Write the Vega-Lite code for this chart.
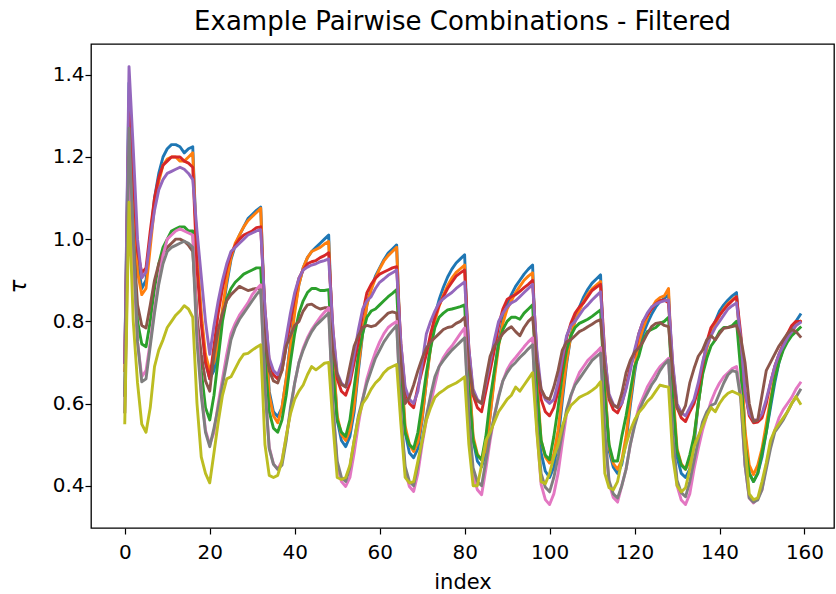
{
"$schema": "https://vega.github.io/schema/vega-lite/v6.json",
"width": 743, "height": 484,
"autosize": {"type": "none"},
"padding": {"left": 91, "top": 44, "right": 2, "bottom": 66},
"background": "white",
"title": {"text": "Example Pairwise Combinations - Filtered", "font": "DejaVu Sans", "fontSize": 26, "fontWeight": "normal", "color": "black", "offset": 9, "anchor": "middle"},
"config": {"view": {"stroke": "black", "strokeWidth": 1.3}, "font": "DejaVu Sans"},
"data": {"values": [
{"x":0,"s1":0.70,"s2":0.68,"s3":0.62,"s4":0.70,"s5":0.70,"s6":0.62,"s7":0.58,"s8":0.58,"s9":0.553},
{"x":1,"s1":1.38,"s2":1.30,"s3":1.22,"s4":1.33,"s5":1.42,"s6":1.20,"s7":1.15,"s8":1.27,"s9":1.09},
{"x":2,"s1":1.15,"s2":1.10,"s3":1.00,"s4":1.15,"s5":1.22,"s6":1.00,"s7":0.95,"s8":1.0,"s9":0.80},
{"x":3,"s1":0.95,"s2":0.92,"s3":0.80,"s4":0.97,"s5":1.0,"s6":0.84,"s7":0.75,"s8":0.75,"s9":0.65},
{"x":4,"s1":0.88,"s2":0.865,"s3":0.745,"s4":0.918,"s5":0.906,"s6":0.79,"s7":0.665,"s8":0.653,"s9":0.55},
{"x":5,"s1":0.90,"s2":0.88,"s3":0.738,"s4":0.93,"s5":0.92,"s6":0.784,"s7":0.68,"s8":0.66,"s9":0.53},
{"x":6,"s1":1.00,"s2":0.98,"s3":0.80,"s4":1.02,"s5":1.0,"s6":0.84,"s7":0.75,"s8":0.74,"s9":0.59},
{"x":7,"s1":1.10,"s2":1.08,"s3":0.88,"s4":1.10,"s5":1.07,"s6":0.90,"s7":0.83,"s8":0.82,"s9":0.69},
{"x":8,"s1":1.16,"s2":1.14,"s3":0.94,"s4":1.15,"s5":1.12,"s6":0.94,"s7":0.90,"s8":0.89,"s9":0.73},
{"x":9,"s1":1.20,"s2":1.18,"s3":0.98,"s4":1.18,"s5":1.145,"s6":0.965,"s7":0.96,"s8":0.94,"s9":0.755},
{"x":10,"s1":1.22,"s2":1.195,"s3":1.00,"s4":1.19,"s5":1.16,"s6":0.98,"s7":1.0,"s8":0.97,"s9":0.785},
{"x":11,"s1":1.23,"s2":1.20,"s3":1.02,"s4":1.20,"s5":1.165,"s6":0.99,"s7":1.01,"s8":0.98,"s9":0.80},
{"x":12,"s1":1.23,"s2":1.20,"s3":1.025,"s4":1.20,"s5":1.17,"s6":1.0,"s7":1.02,"s8":0.985,"s9":0.815},
{"x":13,"s1":1.225,"s2":1.19,"s3":1.03,"s4":1.20,"s5":1.175,"s6":1.0,"s7":1.025,"s8":0.99,"s9":0.825},
{"x":14,"s1":1.21,"s2":1.19,"s3":1.03,"s4":1.19,"s5":1.17,"s6":0.995,"s7":1.02,"s8":0.995,"s9":0.838},
{"x":15,"s1":1.22,"s2":1.20,"s3":1.02,"s4":1.185,"s5":1.16,"s6":0.985,"s7":1.015,"s8":0.99,"s9":0.83},
{"x":16,"s1":1.225,"s2":1.21,"s3":1.02,"s4":1.175,"s5":1.145,"s6":0.97,"s7":1.01,"s8":0.98,"s9":0.81},
{"x":17,"s1":0.96,"s2":0.96,"s3":0.80,"s4":0.93,"s5":1.02,"s6":0.81,"s7":0.78,"s8":0.75,"s9":0.60},
{"x":18,"s1":0.81,"s2":0.82,"s3":0.68,"s4":0.795,"s5":0.91,"s6":0.72,"s7":0.63,"s8":0.62,"s9":0.47},
{"x":19,"s1":0.70,"s2":0.72,"s3":0.59,"s4":0.70,"s5":0.80,"s6":0.655,"s7":0.535,"s8":0.53,"s9":0.43},
{"x":20,"s1":0.66,"s2":0.68,"s3":0.56,"s4":0.66,"s5":0.72,"s6":0.63,"s7":0.50,"s8":0.495,"s9":0.407},
{"x":21,"s1":0.68,"s2":0.70,"s3":0.62,"s4":0.74,"s5":0.79,"s6":0.72,"s7":0.53,"s8":0.54,"s9":0.48},
{"x":22,"s1":0.735,"s2":0.75,"s3":0.71,"s4":0.82,"s5":0.85,"s6":0.78,"s7":0.60,"s8":0.59,"s9":0.555},
{"x":23,"s1":0.82,"s2":0.83,"s3":0.80,"s4":0.88,"s5":0.90,"s6":0.82,"s7":0.66,"s8":0.645,"s9":0.62},
{"x":24,"s1":0.89,"s2":0.90,"s3":0.855,"s4":0.93,"s5":0.94,"s6":0.85,"s7":0.72,"s8":0.70,"s9":0.66},
{"x":25,"s1":0.95,"s2":0.955,"s3":0.88,"s4":0.965,"s5":0.97,"s6":0.865,"s7":0.77,"s8":0.755,"s9":0.665},
{"x":26,"s1":0.985,"s2":0.99,"s3":0.895,"s4":0.985,"s5":0.98,"s6":0.875,"s7":0.795,"s8":0.785,"s9":0.685},
{"x":27,"s1":1.01,"s2":1.01,"s3":0.905,"s4":1.0,"s5":0.99,"s6":0.885,"s7":0.815,"s8":0.805,"s9":0.705},
{"x":28,"s1":1.03,"s2":1.03,"s3":0.915,"s4":1.01,"s5":1.0,"s6":0.88,"s7":0.83,"s8":0.82,"s9":0.72},
{"x":29,"s1":1.05,"s2":1.045,"s3":0.92,"s4":1.015,"s5":1.01,"s6":0.875,"s7":0.845,"s8":0.835,"s9":0.722},
{"x":30,"s1":1.06,"s2":1.055,"s3":0.925,"s4":1.02,"s5":1.015,"s6":0.878,"s7":0.865,"s8":0.85,"s9":0.73},
{"x":31,"s1":1.07,"s2":1.065,"s3":0.93,"s4":1.028,"s5":1.02,"s6":0.88,"s7":0.878,"s8":0.865,"s9":0.737},
{"x":32,"s1":1.078,"s2":1.075,"s3":0.93,"s4":1.03,"s5":1.023,"s6":0.88,"s7":0.889,"s8":0.877,"s9":0.743},
{"x":33,"s1":0.80,"s2":0.79,"s3":0.71,"s4":0.83,"s5":0.83,"s6":0.755,"s7":0.64,"s8":0.64,"s9":0.50},
{"x":34,"s1":0.63,"s2":0.62,"s3":0.58,"s4":0.70,"s5":0.71,"s6":0.68,"s7":0.494,"s8":0.49,"s9":0.425},
{"x":35,"s1":0.58,"s2":0.57,"s3":0.54,"s4":0.67,"s5":0.68,"s6":0.655,"s7":0.453,"s8":0.452,"s9":0.42},
{"x":36,"s1":0.568,"s2":0.553,"s3":0.53,"s4":0.66,"s5":0.67,"s6":0.65,"s7":0.44,"s8":0.44,"s9":0.425},
{"x":37,"s1":0.59,"s2":0.59,"s3":0.56,"s4":0.68,"s5":0.70,"s6":0.68,"s7":0.46,"s8":0.45,"s9":0.46},
{"x":38,"s1":0.66,"s2":0.66,"s3":0.62,"s4":0.74,"s5":0.76,"s6":0.74,"s7":0.52,"s8":0.51,"s9":0.52},
{"x":39,"s1":0.75,"s2":0.74,"s3":0.70,"s4":0.80,"s5":0.82,"s6":0.765,"s7":0.58,"s8":0.59,"s9":0.575},
{"x":40,"s1":0.83,"s2":0.82,"s3":0.77,"s4":0.86,"s5":0.87,"s6":0.79,"s7":0.65,"s8":0.65,"s9":0.61},
{"x":41,"s1":0.89,"s2":0.89,"s3":0.82,"s4":0.905,"s5":0.905,"s6":0.80,"s7":0.70,"s8":0.70,"s9":0.63},
{"x":42,"s1":0.93,"s2":0.93,"s3":0.85,"s4":0.925,"s5":0.925,"s6":0.825,"s7":0.735,"s8":0.73,"s9":0.645},
{"x":43,"s1":0.955,"s2":0.955,"s3":0.87,"s4":0.94,"s5":0.932,"s6":0.84,"s7":0.76,"s8":0.755,"s9":0.67},
{"x":44,"s1":0.97,"s2":0.97,"s3":0.88,"s4":0.945,"s5":0.937,"s6":0.842,"s7":0.78,"s8":0.775,"s9":0.69},
{"x":45,"s1":0.98,"s2":0.975,"s3":0.88,"s4":0.948,"s5":0.94,"s6":0.835,"s7":0.795,"s8":0.79,"s9":0.682},
{"x":46,"s1":0.99,"s2":0.98,"s3":0.875,"s4":0.955,"s5":0.945,"s6":0.83,"s7":0.81,"s8":0.80,"s9":0.69},
{"x":47,"s1":1.0,"s2":0.988,"s3":0.875,"s4":0.96,"s5":0.948,"s6":0.833,"s7":0.822,"s8":0.81,"s9":0.698},
{"x":48,"s1":1.01,"s2":0.994,"s3":0.877,"s4":0.967,"s5":0.952,"s6":0.833,"s7":0.833,"s8":0.82,"s9":0.70},
{"x":49,"s1":0.73,"s2":0.73,"s3":0.68,"s4":0.78,"s5":0.78,"s6":0.727,"s7":0.594,"s8":0.595,"s9":0.55},
{"x":50,"s1":0.56,"s2":0.57,"s3":0.56,"s4":0.66,"s5":0.675,"s6":0.67,"s7":0.45,"s8":0.46,"s9":0.42},
{"x":51,"s1":0.51,"s2":0.525,"s3":0.53,"s4":0.63,"s5":0.65,"s6":0.646,"s7":0.41,"s8":0.42,"s9":0.415},
{"x":52,"s1":0.495,"s2":0.51,"s3":0.52,"s4":0.62,"s5":0.64,"s6":0.64,"s7":0.398,"s8":0.41,"s9":0.42},
{"x":53,"s1":0.52,"s2":0.535,"s3":0.56,"s4":0.65,"s5":0.66,"s6":0.69,"s7":0.42,"s8":0.445,"s9":0.45},
{"x":54,"s1":0.58,"s2":0.595,"s3":0.64,"s4":0.70,"s5":0.72,"s6":0.74,"s7":0.48,"s8":0.51,"s9":0.51},
{"x":55,"s1":0.68,"s2":0.69,"s3":0.72,"s4":0.75,"s5":0.78,"s6":0.765,"s7":0.55,"s8":0.57,"s9":0.565},
{"x":56,"s1":0.77,"s2":0.775,"s3":0.77,"s4":0.82,"s5":0.83,"s6":0.785,"s7":0.61,"s8":0.61,"s9":0.60},
{"x":57,"s1":0.84,"s2":0.84,"s3":0.81,"s4":0.87,"s5":0.85,"s6":0.79,"s7":0.66,"s8":0.65,"s9":0.615},
{"x":58,"s1":0.88,"s2":0.877,"s3":0.825,"s4":0.89,"s5":0.86,"s6":0.787,"s7":0.695,"s8":0.68,"s9":0.635},
{"x":59,"s1":0.91,"s2":0.905,"s3":0.83,"s4":0.905,"s5":0.88,"s6":0.79,"s7":0.725,"s8":0.71,"s9":0.65},
{"x":60,"s1":0.93,"s2":0.928,"s3":0.84,"s4":0.915,"s5":0.895,"s6":0.80,"s7":0.75,"s8":0.73,"s9":0.66},
{"x":61,"s1":0.95,"s2":0.947,"s3":0.85,"s4":0.92,"s5":0.903,"s6":0.81,"s7":0.77,"s8":0.75,"s9":0.675},
{"x":62,"s1":0.966,"s2":0.96,"s3":0.86,"s4":0.925,"s5":0.912,"s6":0.82,"s7":0.785,"s8":0.765,"s9":0.685},
{"x":63,"s1":0.976,"s2":0.97,"s3":0.868,"s4":0.93,"s5":0.918,"s6":0.823,"s7":0.793,"s8":0.778,"s9":0.69},
{"x":64,"s1":0.986,"s2":0.98,"s3":0.877,"s4":0.933,"s5":0.925,"s6":0.82,"s7":0.80,"s8":0.79,"s9":0.695},
{"x":65,"s1":0.70,"s2":0.71,"s3":0.664,"s4":0.745,"s5":0.746,"s6":0.70,"s7":0.572,"s8":0.575,"s9":0.55},
{"x":66,"s1":0.53,"s2":0.545,"s3":0.53,"s4":0.63,"s5":0.64,"s6":0.60,"s7":0.436,"s8":0.447,"s9":0.42},
{"x":67,"s1":0.48,"s2":0.50,"s3":0.50,"s4":0.60,"s5":0.61,"s6":0.615,"s7":0.398,"s8":0.41,"s9":0.407},
{"x":68,"s1":0.468,"s2":0.483,"s3":0.49,"s4":0.59,"s5":0.60,"s6":0.645,"s7":0.386,"s8":0.40,"s9":0.41},
{"x":69,"s1":0.49,"s2":0.506,"s3":0.53,"s4":0.64,"s5":0.63,"s6":0.68,"s7":0.43,"s8":0.45,"s9":0.46},
{"x":70,"s1":0.56,"s2":0.565,"s3":0.60,"s4":0.68,"s5":0.70,"s6":0.71,"s7":0.50,"s8":0.51,"s9":0.51},
{"x":71,"s1":0.655,"s2":0.655,"s3":0.675,"s4":0.72,"s5":0.77,"s6":0.735,"s7":0.56,"s8":0.57,"s9":0.56},
{"x":72,"s1":0.745,"s2":0.737,"s3":0.735,"s4":0.77,"s5":0.80,"s6":0.75,"s7":0.60,"s8":0.62,"s9":0.59},
{"x":73,"s1":0.815,"s2":0.801,"s3":0.785,"s4":0.81,"s5":0.825,"s6":0.76,"s7":0.645,"s8":0.665,"s9":0.615},
{"x":74,"s1":0.853,"s2":0.837,"s3":0.81,"s4":0.84,"s5":0.845,"s6":0.77,"s7":0.69,"s8":0.69,"s9":0.625},
{"x":75,"s1":0.883,"s2":0.864,"s3":0.82,"s4":0.86,"s5":0.855,"s6":0.78,"s7":0.712,"s8":0.705,"s9":0.632},
{"x":76,"s1":0.908,"s2":0.887,"s3":0.828,"s4":0.88,"s5":0.863,"s6":0.785,"s7":0.728,"s8":0.718,"s9":0.64},
{"x":77,"s1":0.927,"s2":0.905,"s3":0.83,"s4":0.895,"s5":0.87,"s6":0.787,"s7":0.74,"s8":0.73,"s9":0.645},
{"x":78,"s1":0.942,"s2":0.919,"s3":0.833,"s4":0.91,"s5":0.88,"s6":0.795,"s7":0.755,"s8":0.74,"s9":0.65},
{"x":79,"s1":0.952,"s2":0.928,"s3":0.836,"s4":0.918,"s5":0.888,"s6":0.80,"s7":0.77,"s8":0.75,"s9":0.657},
{"x":80,"s1":0.962,"s2":0.937,"s3":0.84,"s4":0.925,"s5":0.896,"s6":0.81,"s7":0.784,"s8":0.76,"s9":0.665},
{"x":81,"s1":0.68,"s2":0.676,"s3":0.633,"s4":0.735,"s5":0.733,"s6":0.695,"s7":0.561,"s8":0.562,"s9":0.50},
{"x":82,"s1":0.51,"s2":0.52,"s3":0.51,"s4":0.62,"s5":0.635,"s6":0.625,"s7":0.427,"s8":0.443,"s9":0.40},
{"x":83,"s1":0.46,"s2":0.477,"s3":0.474,"s4":0.59,"s5":0.61,"s6":0.606,"s7":0.39,"s8":0.41,"s9":0.40},
{"x":84,"s1":0.446,"s2":0.463,"s3":0.463,"s4":0.58,"s5":0.60,"s6":0.60,"s7":0.378,"s8":0.40,"s9":0.45},
{"x":85,"s1":0.48,"s2":0.49,"s3":0.52,"s4":0.63,"s5":0.65,"s6":0.66,"s7":0.44,"s8":0.46,"s9":0.51},
{"x":86,"s1":0.57,"s2":0.57,"s3":0.61,"s4":0.68,"s5":0.70,"s6":0.715,"s7":0.51,"s8":0.52,"s9":0.53},
{"x":87,"s1":0.67,"s2":0.66,"s3":0.68,"s4":0.73,"s5":0.755,"s6":0.74,"s7":0.57,"s8":0.57,"s9":0.555},
{"x":88,"s1":0.75,"s2":0.74,"s3":0.745,"s4":0.79,"s5":0.80,"s6":0.755,"s7":0.62,"s8":0.615,"s9":0.58},
{"x":89,"s1":0.805,"s2":0.795,"s3":0.78,"s4":0.83,"s5":0.82,"s6":0.77,"s7":0.655,"s8":0.655,"s9":0.595},
{"x":90,"s1":0.84,"s2":0.83,"s3":0.80,"s4":0.853,"s5":0.835,"s6":0.78,"s7":0.682,"s8":0.675,"s9":0.61},
{"x":91,"s1":0.865,"s2":0.85,"s3":0.81,"s4":0.86,"s5":0.845,"s6":0.787,"s7":0.70,"s8":0.69,"s9":0.62},
{"x":92,"s1":0.885,"s2":0.87,"s3":0.81,"s4":0.865,"s5":0.85,"s6":0.775,"s7":0.712,"s8":0.70,"s9":0.64},
{"x":93,"s1":0.90,"s2":0.885,"s3":0.805,"s4":0.873,"s5":0.86,"s6":0.765,"s7":0.725,"s8":0.712,"s9":0.63},
{"x":94,"s1":0.915,"s2":0.90,"s3":0.82,"s4":0.882,"s5":0.87,"s6":0.785,"s7":0.738,"s8":0.722,"s9":0.645},
{"x":95,"s1":0.927,"s2":0.91,"s3":0.83,"s4":0.89,"s5":0.88,"s6":0.80,"s7":0.75,"s8":0.733,"s9":0.66},
{"x":96,"s1":0.937,"s2":0.918,"s3":0.84,"s4":0.90,"s5":0.89,"s6":0.81,"s7":0.76,"s8":0.743,"s9":0.675},
{"x":97,"s1":0.65,"s2":0.663,"s3":0.633,"s4":0.72,"s5":0.73,"s6":0.70,"s7":0.537,"s8":0.546,"s9":0.53},
{"x":98,"s1":0.48,"s2":0.51,"s3":0.51,"s4":0.61,"s5":0.635,"s6":0.635,"s7":0.403,"s8":0.43,"s9":0.41},
{"x":99,"s1":0.435,"s2":0.47,"s3":0.474,"s4":0.58,"s5":0.61,"s6":0.615,"s7":0.366,"s8":0.396,"s9":0.405},
{"x":100,"s1":0.42,"s2":0.455,"s3":0.463,"s4":0.57,"s5":0.60,"s6":0.61,"s7":0.354,"s8":0.385,"s9":0.43},
{"x":101,"s1":0.445,"s2":0.477,"s3":0.52,"s4":0.59,"s5":0.61,"s6":0.64,"s7":0.38,"s8":0.42,"s9":0.47},
{"x":102,"s1":0.51,"s2":0.535,"s3":0.59,"s4":0.63,"s5":0.65,"s6":0.68,"s7":0.43,"s8":0.47,"s9":0.50},
{"x":103,"s1":0.607,"s2":0.623,"s3":0.67,"s4":0.70,"s5":0.71,"s6":0.73,"s7":0.505,"s8":0.53,"s9":0.545},
{"x":104,"s1":0.696,"s2":0.703,"s3":0.73,"s4":0.76,"s5":0.765,"s6":0.75,"s7":0.575,"s8":0.585,"s9":0.575},
{"x":105,"s1":0.765,"s2":0.764,"s3":0.765,"s4":0.795,"s5":0.79,"s6":0.755,"s7":0.617,"s8":0.62,"s9":0.595},
{"x":106,"s1":0.805,"s2":0.80,"s3":0.785,"s4":0.82,"s5":0.80,"s6":0.765,"s7":0.65,"s8":0.645,"s9":0.605},
{"x":107,"s1":0.834,"s2":0.826,"s3":0.795,"s4":0.835,"s5":0.815,"s6":0.775,"s7":0.675,"s8":0.66,"s9":0.615},
{"x":108,"s1":0.859,"s2":0.848,"s3":0.80,"s4":0.845,"s5":0.83,"s6":0.78,"s7":0.69,"s8":0.675,"s9":0.62},
{"x":109,"s1":0.878,"s2":0.866,"s3":0.805,"s4":0.86,"s5":0.84,"s6":0.787,"s7":0.705,"s8":0.69,"s9":0.625},
{"x":110,"s1":0.893,"s2":0.879,"s3":0.812,"s4":0.875,"s5":0.852,"s6":0.793,"s7":0.715,"s8":0.705,"s9":0.632},
{"x":111,"s1":0.903,"s2":0.888,"s3":0.82,"s4":0.883,"s5":0.862,"s6":0.80,"s7":0.725,"s8":0.714,"s9":0.64},
{"x":112,"s1":0.913,"s2":0.897,"s3":0.828,"s4":0.89,"s5":0.872,"s6":0.804,"s7":0.736,"s8":0.723,"s9":0.653},
{"x":113,"s1":0.65,"s2":0.646,"s3":0.62,"s4":0.72,"s5":0.717,"s6":0.686,"s7":0.529,"s8":0.529,"s9":0.43},
{"x":114,"s1":0.485,"s2":0.495,"s3":0.50,"s4":0.61,"s5":0.623,"s6":0.615,"s7":0.405,"s8":0.412,"s9":0.395},
{"x":115,"s1":0.445,"s2":0.454,"s3":0.46,"s4":0.585,"s5":0.598,"s6":0.596,"s7":0.371,"s8":0.38,"s9":0.39},
{"x":116,"s1":0.43,"s2":0.44,"s3":0.46,"s4":0.577,"s5":0.59,"s6":0.59,"s7":0.36,"s8":0.37,"s9":0.41},
{"x":117,"s1":0.452,"s2":0.462,"s3":0.52,"s4":0.60,"s5":0.60,"s6":0.625,"s7":0.40,"s8":0.40,"s9":0.46},
{"x":118,"s1":0.508,"s2":0.52,"s3":0.57,"s4":0.64,"s5":0.635,"s6":0.675,"s7":0.44,"s8":0.44,"s9":0.50},
{"x":119,"s1":0.595,"s2":0.607,"s3":0.63,"s4":0.69,"s5":0.68,"s6":0.705,"s7":0.50,"s8":0.50,"s9":0.535},
{"x":120,"s1":0.674,"s2":0.686,"s3":0.69,"s4":0.72,"s5":0.73,"s6":0.725,"s7":0.55,"s8":0.545,"s9":0.56},
{"x":121,"s1":0.735,"s2":0.748,"s3":0.715,"s4":0.77,"s5":0.77,"s6":0.735,"s7":0.59,"s8":0.58,"s9":0.578},
{"x":122,"s1":0.769,"s2":0.783,"s3":0.755,"s4":0.80,"s5":0.80,"s6":0.75,"s7":0.615,"s8":0.605,"s9":0.59},
{"x":123,"s1":0.795,"s2":0.81,"s3":0.775,"s4":0.815,"s5":0.82,"s6":0.77,"s7":0.64,"s8":0.625,"s9":0.605},
{"x":124,"s1":0.817,"s2":0.832,"s3":0.78,"s4":0.83,"s5":0.835,"s6":0.787,"s7":0.658,"s8":0.645,"s9":0.615},
{"x":125,"s1":0.835,"s2":0.849,"s3":0.785,"s4":0.843,"s5":0.842,"s6":0.795,"s7":0.675,"s8":0.66,"s9":0.63},
{"x":126,"s1":0.848,"s2":0.858,"s3":0.795,"s4":0.85,"s5":0.847,"s6":0.797,"s7":0.69,"s8":0.68,"s9":0.645},
{"x":127,"s1":0.856,"s2":0.862,"s3":0.80,"s4":0.852,"s5":0.85,"s6":0.79,"s7":0.70,"s8":0.695,"s9":0.642},
{"x":128,"s1":0.865,"s2":0.88,"s3":0.81,"s4":0.845,"s5":0.852,"s6":0.787,"s7":0.71,"s8":0.706,"s9":0.64},
{"x":129,"s1":0.62,"s2":0.64,"s3":0.61,"s4":0.69,"s5":0.697,"s6":0.67,"s7":0.514,"s8":0.523,"s9":0.47},
{"x":130,"s1":0.47,"s2":0.49,"s3":0.485,"s4":0.59,"s5":0.60,"s6":0.59,"s7":0.40,"s8":0.413,"s9":0.40},
{"x":131,"s1":0.43,"s2":0.453,"s3":0.45,"s4":0.565,"s5":0.578,"s6":0.573,"s7":0.365,"s8":0.383,"s9":0.385},
{"x":132,"s1":0.42,"s2":0.44,"s3":0.44,"s4":0.556,"s5":0.57,"s6":0.595,"s7":0.354,"s8":0.373,"s9":0.395},
{"x":133,"s1":0.44,"s2":0.46,"s3":0.475,"s4":0.58,"s5":0.59,"s6":0.65,"s7":0.38,"s8":0.41,"s9":0.44},
{"x":134,"s1":0.50,"s2":0.515,"s3":0.52,"s4":0.60,"s5":0.61,"s6":0.685,"s7":0.44,"s8":0.46,"s9":0.495},
{"x":135,"s1":0.60,"s2":0.60,"s3":0.60,"s4":0.635,"s5":0.65,"s6":0.715,"s7":0.49,"s8":0.51,"s9":0.52},
{"x":136,"s1":0.68,"s2":0.675,"s3":0.67,"s4":0.69,"s5":0.70,"s6":0.73,"s7":0.535,"s8":0.555,"s9":0.545},
{"x":137,"s1":0.74,"s2":0.734,"s3":0.71,"s4":0.75,"s5":0.74,"s6":0.755,"s7":0.57,"s8":0.58,"s9":0.57},
{"x":138,"s1":0.775,"s2":0.768,"s3":0.74,"s4":0.785,"s5":0.765,"s6":0.765,"s7":0.605,"s8":0.595,"s9":0.59},
{"x":139,"s1":0.80,"s2":0.793,"s3":0.755,"s4":0.80,"s5":0.785,"s6":0.755,"s7":0.63,"s8":0.60,"s9":0.58},
{"x":140,"s1":0.825,"s2":0.814,"s3":0.775,"s4":0.815,"s5":0.80,"s6":0.77,"s7":0.65,"s8":0.625,"s9":0.60},
{"x":141,"s1":0.84,"s2":0.83,"s3":0.785,"s4":0.828,"s5":0.815,"s6":0.783,"s7":0.665,"s8":0.65,"s9":0.615},
{"x":142,"s1":0.852,"s2":0.843,"s3":0.785,"s4":0.84,"s5":0.83,"s6":0.785,"s7":0.675,"s8":0.67,"s9":0.625},
{"x":143,"s1":0.862,"s2":0.852,"s3":0.79,"s4":0.85,"s5":0.838,"s6":0.787,"s7":0.685,"s8":0.68,"s9":0.63},
{"x":144,"s1":0.87,"s2":0.86,"s3":0.80,"s4":0.86,"s5":0.845,"s6":0.79,"s7":0.69,"s8":0.677,"s9":0.625},
{"x":145,"s1":0.73,"s2":0.73,"s3":0.68,"s4":0.77,"s5":0.76,"s6":0.76,"s7":0.62,"s8":0.61,"s9":0.62},
{"x":146,"s1":0.525,"s2":0.535,"s3":0.50,"s4":0.63,"s5":0.63,"s6":0.70,"s7":0.45,"s8":0.45,"s9":0.50},
{"x":147,"s1":0.43,"s2":0.45,"s3":0.43,"s4":0.57,"s5":0.575,"s6":0.60,"s7":0.37,"s8":0.37,"s9":0.38},
{"x":148,"s1":0.41,"s2":0.427,"s3":0.41,"s4":0.553,"s5":0.56,"s6":0.556,"s7":0.358,"s8":0.36,"s9":0.366},
{"x":149,"s1":0.43,"s2":0.45,"s3":0.43,"s4":0.555,"s5":0.56,"s6":0.56,"s7":0.37,"s8":0.365,"s9":0.37},
{"x":150,"s1":0.47,"s2":0.49,"s3":0.48,"s4":0.565,"s5":0.575,"s6":0.62,"s7":0.39,"s8":0.39,"s9":0.41},
{"x":151,"s1":0.53,"s2":0.55,"s3":0.53,"s4":0.60,"s5":0.61,"s6":0.68,"s7":0.45,"s8":0.44,"s9":0.455},
{"x":152,"s1":0.59,"s2":0.61,"s3":0.60,"s4":0.65,"s5":0.65,"s6":0.70,"s7":0.50,"s8":0.49,"s9":0.51},
{"x":153,"s1":0.65,"s2":0.665,"s3":0.66,"s4":0.69,"s5":0.69,"s6":0.72,"s7":0.535,"s8":0.53,"s9":0.535},
{"x":154,"s1":0.70,"s2":0.705,"s3":0.70,"s4":0.72,"s5":0.72,"s6":0.74,"s7":0.565,"s8":0.545,"s9":0.55},
{"x":155,"s1":0.735,"s2":0.735,"s3":0.73,"s4":0.745,"s5":0.74,"s6":0.755,"s7":0.585,"s8":0.56,"s9":0.565},
{"x":156,"s1":0.765,"s2":0.76,"s3":0.75,"s4":0.77,"s5":0.76,"s6":0.77,"s7":0.60,"s8":0.58,"s9":0.58},
{"x":157,"s1":0.785,"s2":0.775,"s3":0.765,"s4":0.79,"s5":0.775,"s6":0.78,"s7":0.615,"s8":0.60,"s9":0.60},
{"x":158,"s1":0.80,"s2":0.79,"s3":0.775,"s4":0.80,"s5":0.79,"s6":0.775,"s7":0.635,"s8":0.615,"s9":0.617},
{"x":159,"s1":0.816,"s2":0.80,"s3":0.785,"s4":0.80,"s5":0.797,"s6":0.763,"s7":0.65,"s8":0.633,"s9":0.60}
]},
"transform": [{"fold": ["s1","s2","s3","s4","s5","s6","s7","s8","s9"], "as": ["series","tau"]}],
"mark": {"type": "line", "strokeWidth": 2.9, "strokeJoin": "round", "strokeCap": "square"},
"encoding": {
  "x": {"field": "x", "type": "quantitative",
        "scale": {"domain": [-7.95, 166.95], "nice": false, "zero": false},
        "axis": {"values": [0,20,40,60,80,100,120,140,160], "title": "index", "grid": false, "domain": false,
                 "tickColor": "black", "tickSize": 6, "tickWidth": 1.2, "labelFontSize": 20, "labelColor": "black",
                 "labelPadding": 8, "titleFontSize": 21, "titleFontWeight": "normal", "titleColor": "black", "titlePadding": 9, "labelFont": "DejaVu Sans", "titleFont": "DejaVu Sans"}},
  "y": {"field": "tau", "type": "quantitative",
        "scale": {"domain": [0.297, 1.475], "nice": false, "zero": false},
        "axis": {"values": [0.4,0.6,0.8,1.0,1.2,1.4], "format": ".1f", "title": "τ", "grid": false, "domain": false,
                 "tickColor": "black", "tickSize": 6, "tickWidth": 1.2, "labelFontSize": 20, "labelColor": "black",
                 "labelPadding": 1, "titleFontSize": 23, "titleFontWeight": "normal", "titleFontStyle": "italic", "titleColor": "black", "titlePadding": 22, "labelFont": "DejaVu Sans", "titleFont": "DejaVu Sans"}},
  "color": {"field": "series", "type": "nominal", "legend": null,
            "scale": {"domain": ["s1","s2","s3","s4","s5","s6","s7","s8","s9"],
                      "range": ["#1f77b4","#ff7f0e","#2ca02c","#d62728","#9467bd","#8c564b","#e377c2","#7f7f7f","#bcbd22"]}}
}
}
